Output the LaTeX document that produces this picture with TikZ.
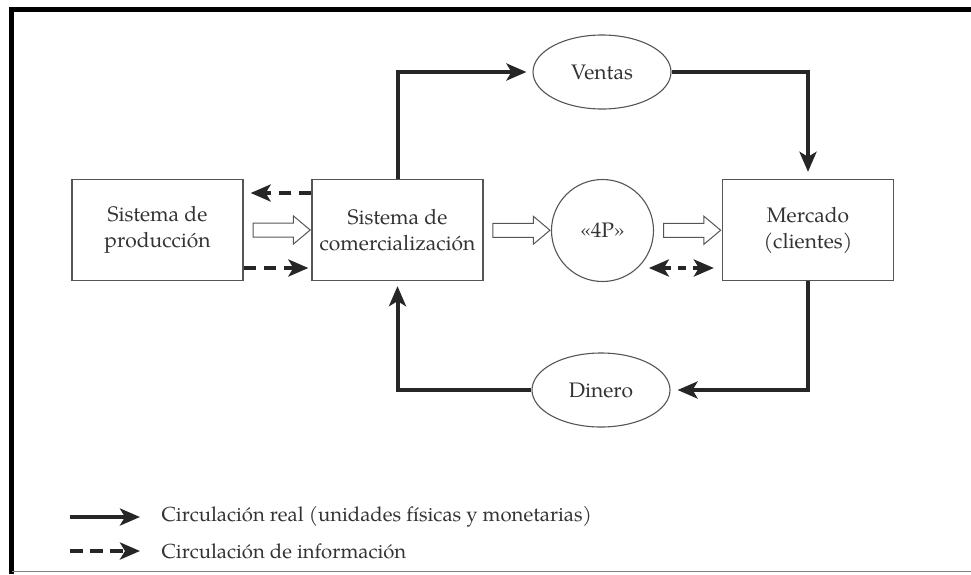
\documentclass[tikz,border=0pt]{standalone}
\usepackage{fontspec}
\setmainfont{TeX Gyre Pagella}
\usetikzlibrary{shapes.geometric,shapes.arrows,arrows.meta,calc}
\definecolor{ink}{HTML}{333333}
\definecolor{edge}{HTML}{555555}
\definecolor{flowc}{HTML}{262626}
\begin{document}
\begin{tikzpicture}[x=1pt,y=-1pt,
  txt/.style={text=ink, font=\fontsize{21}{26}\selectfont},
  box/.style={txt, draw=edge, line width=1.3pt, minimum width=171pt, minimum height=101pt, align=center, inner sep=0pt},
  oval/.style={txt, ellipse, draw=edge, line width=1.1pt, minimum width=138pt, minimum height=74pt, inner sep=0pt},
  roundnode/.style={txt, circle, draw=edge, line width=1.1pt, minimum size=102pt, inner sep=0pt},
  tipb/.tip={Stealth[length=20pt,width=17pt,inset=5pt]},
  flow/.style={line width=4pt, draw=flowc, -tipb},
  info/.style={flow, dash pattern=on 12pt off 8pt},
  hollow/.style={single arrow, draw=edge, line width=1pt, fill=white, minimum height=57pt, inner xsep=0pt, inner ysep=6.5pt, single arrow head extend=7pt, single arrow tip angle=80},
  legendtxt/.style={text=ink, font=\fontsize{20.3}{24}\selectfont, anchor=west}
]
\useasboundingbox (0,0) rectangle (971,574);

% frame
\draw[line width=5pt, black] (11.5,574) -- (11.5,9) -- (971,9);
\draw[line width=1.5pt, gray] (11.5,571.5) -- (971,571.5);

% nodes
\node[box] (prod) at (157.5,230) {Sistema de\\producción};
\node[box] (comm) at (397.5,230) {Sistema de\\comercialización};
\node[roundnode] (p4) at (602.5,230.5) {«4P»};
\node[box] (merc) at (808,230) {Mercado\\(clientes)};
\node[oval] (ventas) at (602,72) {Ventas};
\node[oval] (dinero) at (601,390) {Dinero};

% hollow arrows
\node[hollow] (h1) at ($(prod.east)!0.5!(comm.west)$) {};
\node[hollow] (h2) at ($(comm.east)!0.5!(p4.west)$) {};
\node[hollow] (h3) at ($(p4.east)!0.5!(merc.west)$) {};

% real flow
\draw[flow, shorten >=6pt] (comm.north) |- (ventas.west);
\draw[flow, shorten >=7pt] (ventas.east) -| (merc.north);
\draw[flow, shorten >=7pt] (merc.south) |- (dinero.east);
\draw[flow, shorten >=5pt] (dinero.west) -| (comm.south);

% information flow
\draw[info, shorten >=7pt] ($(comm.west)+(0,-37)$) -- ($(prod.east)+(0,-37)$);
\draw[info, shorten >=3pt] ($(prod.east)+(0,38)$) -- ($(comm.west)+(0,38)$);
\draw[line width=4pt, draw=flowc, tipb-tipb, dash pattern=on 8pt off 7pt]
  ($(merc.west)+(-73,38)$) -- ($(merc.west)+(-8,38)$);

% legend
\coordinate (l1a) at (70,517);
\coordinate (l1b) at (140,517);
\coordinate (l2a) at (70,551);
\coordinate (l2b) at (140,551);
\draw[flow] (l1a) -- (l1b);
\draw[info, dash pattern=on 13pt off 7pt] (l2a) -- (l2b);
\node[legendtxt] (lt1) at (158,517) {Circulación real (unidades físicas y monetarias)};
\node[legendtxt] (lt2) at (158,551) {Circulación de información};
\end{tikzpicture}
\end{document}
